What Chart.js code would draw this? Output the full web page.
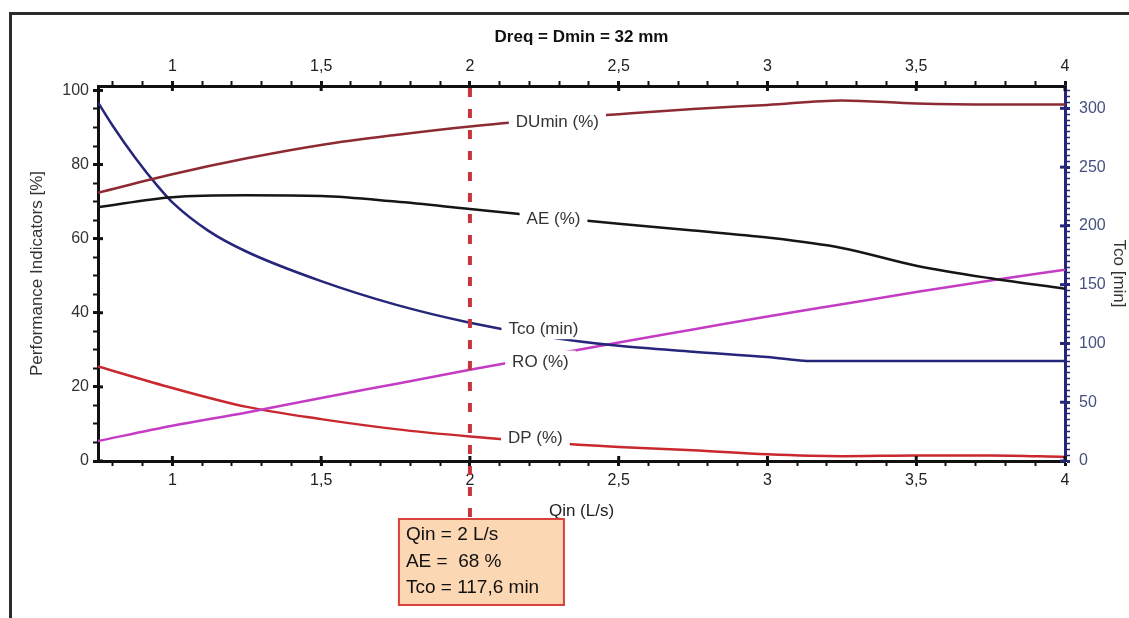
<!DOCTYPE html>
<html>
<head>
<meta charset="utf-8">
<script src="https://cdn.jsdelivr.net/npm/chart.js@4.4.1/dist/chart.umd.min.js"></script>
<style>
  html, body { margin: 0; padding: 0; background: #fff; }
  #wrap { position: relative; width: 1129px; height: 618px; overflow: hidden; }
  #frame { position: absolute; left: 9px; top: 12px; right: -10px; bottom: -10px;
           border-top: 3px solid #2b2b2b; border-left: 3px solid #2b2b2b; }
  canvas { position: absolute; left: 0; top: 0; }
</style>
</head>
<body>
<div id="wrap"><div id="frame"></div><canvas id="chart" width="1129" height="618"></canvas></div>
<script>
// Qin (L/s) sample points shared by the % series
const qin = [0.75, 1, 1.25, 1.5, 1.75, 2, 2.25, 2.5, 2.75, 3, 3.25, 3.5, 3.75, 4];
const duMin = [72.4, 77.4, 81.7, 85.3, 88, 90.3, 92.1, 93.6, 95, 96.1, 97.3, 96.5, 96.2, 96.2];
const ae = [68.5, 71.2, 71.7, 71.5, 70, 68, 66, 64, 62.2, 60.3, 57.5, 52.7, 49.3, 46.5];
const ro = [5.4, 9.5, 13.1, 17, 20.8, 24.6, 28.3, 32, 35.5, 39, 42.3, 45.6, 48.7, 51.6];
const dp = [25.5, 19.7, 14.6, 11.3, 8.6, 6.6, 5, 3.8, 2.9, 1.8, 1.3, 1.5, 1.5, 1.1];

// Tco (min) has its own points (steep start)
const qinTco = [0.75, 0.8, 0.875, 0.95, 1, 1.12, 1.25, 1.5, 1.75, 2, 2.25, 2.5, 2.75, 3, 3.15, 3.5, 4];
const tco = [305, 285, 258, 234, 220, 196, 178, 153, 133, 117.6, 106, 98, 93, 88.5, 85, 85, 85];

// axes
const qinMin = 0.75, qinMax = 4, qinMinorStep = 0.1;
const qinTicks = [1, 1.5, 2, 2.5, 3, 3.5, 4];
const pctMax = 101.2, pctMinorStep = 5;
const pctTicks = [0, 20, 40, 60, 80, 100];
const tcoMax = 319, tcoMinorStep = 5;
const tcoTicks = [0, 50, 100, 150, 200, 250, 300];

// readout at the cursor
const cursorQin = 2;

const FONT = '"Liberation Sans", Arial, sans-serif';
Chart.defaults.font.family = FONT;

const fmt = v => String(Math.round(v * 100) / 100).replace('.', ',');
const isOn = (list, v) => list.some(m => Math.abs(m - v) < 1e-6);

function stepTicks(min, max, step) {
  const out = [];
  for (let i = Math.ceil(min / step - 1e-9); i * step <= max + 1e-9; i++) {
    out.push({ value: Math.round(i * step * 1000) / 1000 });
  }
  return out;
}

// linear lookup along a series, used to park labels on their line
function valueAt(xs, ys, q) {
  for (let i = 1; i < xs.length; i++) {
    if (q <= xs[i]) {
      const t = (q - xs[i - 1]) / (xs[i] - xs[i - 1]);
      return ys[i - 1] + t * (ys[i] - ys[i - 1]);
    }
  }
  return ys[ys.length - 1];
}

const toPoints = (xs, ys) => xs.map((x, i) => ({ x: x, y: ys[i] }));

// at = label centre along Qin, level = Qin where the label takes its height
const series = [
  { label: 'DUmin (%)', xs: qin, ys: duMin, color: '#8e2a33', axis: 'y', at: 2.294, level: 2.2 },
  { label: 'AE (%)', xs: qin, ys: ae, color: '#151515', axis: 'y', at: 2.281, level: 2.32 },
  { label: 'Tco (min)', xs: qinTco, ys: tco, color: '#25257a', axis: 'y1', at: 2.247, level: 2.1 },
  { label: 'RO (%)', xs: qin, ys: ro, color: '#c43cc4', axis: 'y', at: 2.237, level: 2.15 },
  { label: 'DP (%)', xs: qin, ys: dp, color: '#c8282e', axis: 'y', at: 2.22, level: 2.03 }
];

function tickGrid(majors, color, minorW) {
  return {
    drawOnChartArea: false,
    drawTicks: true,
    tickLength: 5,
    tickColor: color,
    tickWidth: c => (c.tick && isOn(majors, c.tick.value)) ? 3 : minorW
  };
}

const overlay = {
  id: 'overlay',
  afterDatasetsDraw(chart) {
    const { ctx, scales } = chart;
    ctx.save();
    ctx.font = '17px ' + FONT;
    ctx.textAlign = 'center';
    ctx.textBaseline = 'middle';
    series.forEach(s => {
      const px = scales.x.getPixelForValue(s.at);
      const py = scales[s.axis].getPixelForValue(valueAt(s.xs, s.ys, s.level));
      const w = ctx.measureText(s.label).width + 14;
      ctx.fillStyle = '#fff';
      ctx.fillRect(px - w / 2, py - 11, w, 22);
      ctx.fillStyle = '#333';
      ctx.fillText(s.label, px, py + 1);
    });
    ctx.restore();
  },
  afterDraw(chart) {
    const { ctx, chartArea, scales } = chart;
    ctx.save();

    // major ticks also cross into the plot
    const inner = [
      { s: scales.x, majors: qinTicks, color: '#111', dir: -1 },
      { s: scales.x2, majors: qinTicks, color: '#111', dir: 1 },
      { s: scales.y, majors: pctTicks, color: '#111', dir: 1 },
      { s: scales.y1, majors: tcoTicks, color: '#25257a', dir: -1 }
    ];
    inner.forEach(a => {
      ctx.strokeStyle = a.color;
      ctx.lineWidth = 3;
      a.majors.forEach(v => {
        const p = a.s.getPixelForValue(v);
        ctx.beginPath();
        if (a.s.isHorizontal()) {
          const y0 = a.s.position === 'top' ? chartArea.top : chartArea.bottom;
          ctx.moveTo(p, y0);
          ctx.lineTo(p, y0 + 5 * a.dir);
        } else {
          const x0 = a.s.position === 'left' ? chartArea.left : chartArea.right;
          ctx.moveTo(x0, p);
          ctx.lineTo(x0 + 5 * a.dir, p);
        }
        ctx.stroke();
      });
    });

    // cursor + readout box
    const cx = scales.x.getPixelForValue(cursorQin);
    const boxL = cx - 71, boxT = 519, boxW = 165, boxH = 86;
    ctx.strokeStyle = '#c9343c';
    ctx.lineWidth = 4;
    ctx.setLineDash([9, 12]);
    ctx.beginPath();
    ctx.moveTo(cx, chartArea.top + 2);
    ctx.lineTo(cx, boxT);
    ctx.stroke();
    ctx.setLineDash([]);

    ctx.fillStyle = '#fcd7b3';
    ctx.fillRect(boxL, boxT, boxW, boxH);
    ctx.strokeStyle = '#d8413c';
    ctx.lineWidth = 2;
    ctx.strokeRect(boxL, boxT, boxW, boxH);

    const lines = [
      'Qin = ' + fmt(cursorQin) + ' L/s',
      'AE =  ' + fmt(valueAt(qin, ae, cursorQin)) + ' %',
      'Tco = ' + fmt(valueAt(qinTco, tco, cursorQin)) + ' min'
    ];
    ctx.font = '19px ' + FONT;
    ctx.fillStyle = '#111';
    ctx.textAlign = 'left';
    ctx.textBaseline = 'middle';
    lines.forEach((t, i) => ctx.fillText(t, boxL + 7, boxT + 16 + i * 26.5));
    ctx.restore();
  }
};

new Chart(document.getElementById('chart'), {
  type: 'line',
  data: {
    datasets: series.map(s => ({
      label: s.label,
      data: toPoints(s.xs, s.ys),
      yAxisID: s.axis,
      borderColor: s.color,
      borderWidth: 2.5,
      pointRadius: 0,
      cubicInterpolationMode: 'monotone',
      fill: false
    }))
  },
  options: {
    responsive: false,
    animation: false,
    layout: { padding: { left: 24, right: 0, top: 20, bottom: 96 } },
    plugins: { legend: { display: false }, tooltip: { enabled: false } },
    scales: {
      x: {
        type: 'linear', position: 'bottom', min: qinMin, max: qinMax,
        afterBuildTicks: s => { s.ticks = stepTicks(qinMin, qinMax, qinMinorStep); },
        afterFit: s => { s.height = 61; },
        ticks: { autoSkip: false, maxRotation: 0, padding: 5, color: '#222', font: { size: 16 },
                 callback: v => isOn(qinTicks, v) ? fmt(v) : '' },
        grid: tickGrid(qinTicks, '#111', 2),
        border: { display: true, color: '#111', width: 3 },
        title: { display: true, text: 'Qin (L/s)', color: '#222', font: { size: 17 },
                 padding: { top: 0, bottom: 0 } }
      },
      x2: {
        type: 'linear', position: 'top', min: qinMin, max: qinMax,
        afterBuildTicks: s => { s.ticks = stepTicks(qinMin, qinMax, qinMinorStep); },
        afterFit: s => { s.height = 66; },
        ticks: { autoSkip: false, maxRotation: 0, padding: 5, color: '#222', font: { size: 16 },
                 callback: v => isOn(qinTicks, v) ? fmt(v) : '' },
        grid: tickGrid(qinTicks, '#111', 2),
        border: { display: true, color: '#111', width: 3 },
        title: { display: true, text: 'Dreq = Dmin = 32 mm', color: '#111',
                 font: { size: 17, weight: 'bold' }, padding: { top: 7, bottom: 0 } }
      },
      y: {
        type: 'linear', position: 'left', min: 0, max: pctMax,
        afterBuildTicks: s => { s.ticks = stepTicks(0, pctMax, pctMinorStep); },
        afterFit: s => { s.width = 74; },
        ticks: { autoSkip: false, padding: 4, color: '#333', font: { size: 16 },
                 callback: v => isOn(pctTicks, v) ? String(v) : '' },
        grid: tickGrid(pctTicks, '#111', 2),
        border: { display: true, color: '#111', width: 3 },
        title: { display: true, text: 'Performance Indicators [%]', color: '#333', font: { size: 17 },
                 padding: { top: 3, bottom: 0 } }
      },
      y1: {
        type: 'linear', position: 'right', min: 0, max: tcoMax,
        afterBuildTicks: s => { s.ticks = stepTicks(0, tcoMax, tcoMinorStep); },
        afterFit: s => { s.width = 64; },
        ticks: { autoSkip: false, padding: 9, color: '#46507f', font: { size: 16 },
                 callback: v => isOn(tcoTicks, v) ? String(v) : '' },
        grid: tickGrid(tcoTicks, '#25257a', 1.5),
        border: { display: true, color: '#25257a', width: 3 },
        title: { display: true, text: 'Tco [min]', color: '#333', font: { size: 17 },
                 padding: { top: 0, bottom: 0 } }
      }
    }
  },
  plugins: [overlay]
});
</script>
</body>
</html>
